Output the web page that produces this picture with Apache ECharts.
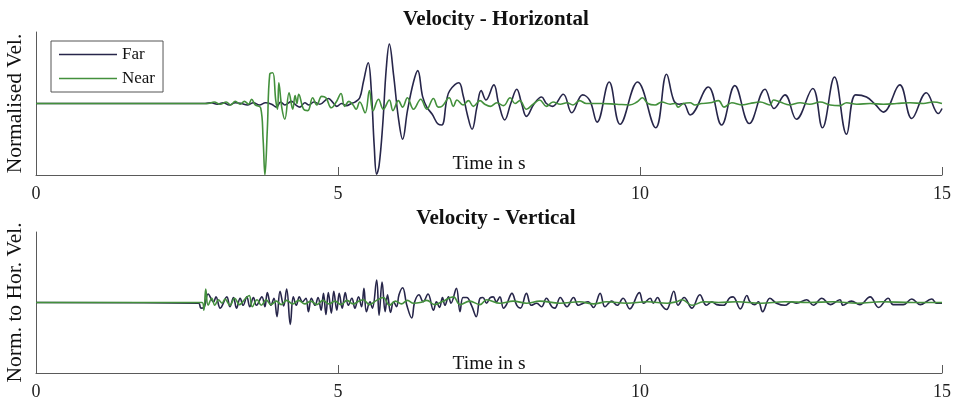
<!DOCTYPE html>
<html>
<head>
<meta charset="utf-8">
<script src="https://cdn.jsdelivr.net/npm/echarts@6/dist/echarts.min.js"></script>
<style>html,body{margin:0;padding:0;background:#fff}#c{width:959px;height:401px}</style>
</head>
<body>
<div id="c"></div>
<script>
var xTicks = [0, 5, 10, 15];
var titles = ['Velocity - Horizontal', 'Velocity - Vertical'];
var yNames = ['Normalised Vel.', 'Norm. to Hor. Vel.'];
var xName = 'Time in s';
var seriesNames = ['Far', 'Near'];

var horFar = [[0,0],[2.8,0],[2.9,0.01],[3.0,-0.01],[3.1,0.01],[3.2,-0.02],[3.3,0.01],[3.4,0.0],[3.5,-0.02],[3.6,0.01],[3.7,-0.02],[3.8,0.01],[3.9,-0.01],[3.98,-0.05],[4.05,0.02],[4.12,-0.02],[4.23,0.03],[4.3,-0.02],[4.37,-0.05],[4.45,0.01],[4.52,-0.02],[4.6,0.02],[4.7,-0.01],[4.84,0.07],[4.91,0.02],[4.98,-0.04],[5.06,0.0],[5.14,-0.03],[5.22,0.0],[5.28,0.02],[5.36,0.08],[5.42,0.3],[5.50,0.57],[5.55,0.2],[5.60,-0.6],[5.64,-0.99],[5.68,-0.87],[5.74,-0.3],[5.80,0.5],[5.85,0.83],[5.92,0.4],[6.0,-0.2],[6.07,-0.5],[6.15,-0.1],[6.25,0.3],[6.32,0.46],[6.40,0.1],[6.47,-0.05],[6.56,-0.15],[6.66,-0.29],[6.72,-0.3],[6.8,0.05],[6.85,0.18],[7.0,0.29],[7.07,0.12],[7.14,-0.15],[7.22,-0.36],[7.30,-0.05],[7.37,0.18],[7.45,0.05],[7.58,0.26],[7.66,0.0],[7.76,-0.23],[7.86,0.0],[7.96,0.20],[8.04,0.0],[8.12,-0.18],[8.25,0.0],[8.37,0.09],[8.45,0.0],[8.55,-0.04],[8.73,0.13],[8.87,-0.13],[9.05,0.12],[9.17,0.04],[9.29,-0.26],[9.49,0.30],[9.67,-0.29],[9.96,0.30],[10.26,-0.34],[10.44,0.41],[10.56,0.04],[10.65,-0.01],[10.72,0.0],[10.83,-0.16],[11.13,0.23],[11.35,-0.30],[11.57,0.25],[11.81,-0.28],[12.07,0.20],[12.22,-0.07],[12.40,0.12],[12.59,-0.22],[12.86,0.21],[13.02,-0.34],[13.22,0.37],[13.42,-0.43],[13.57,0.12],[13.75,0.09],[13.89,-0.01],[14.03,-0.12],[14.30,0.26],[14.50,-0.21],[14.74,0.15],[14.94,-0.14],[15.0,-0.07]];

var horNear = [[0,0],[2.85,0],[2.95,0.02],[3.05,-0.01],[3.15,0.02],[3.22,-0.02],[3.3,0.03],[3.38,-0.01],[3.45,0.03],[3.52,-0.01],[3.57,0.06],[3.63,-0.02],[3.72,-0.06],[3.76,-0.5],[3.79,-1.0],[3.83,-0.36],[3.87,0.41],[3.92,0.43],[3.97,0.04],[4.0,-0.08],[4.02,0.29],[4.07,-0.06],[4.12,-0.22],[4.19,0.15],[4.25,-0.08],[4.29,0.11],[4.32,0.0],[4.35,0.13],[4.43,-0.08],[4.5,-0.1],[4.58,0.08],[4.65,-0.02],[4.73,0.1],[4.80,0.08],[4.89,-0.06],[4.97,0.02],[5.05,0.14],[5.11,-0.04],[5.18,0.03],[5.25,-0.02],[5.30,-0.08],[5.36,0.02],[5.45,-0.13],[5.52,0.18],[5.58,-0.10],[5.67,0.06],[5.75,-0.08],[5.85,0.05],[5.91,-0.10],[6.0,0.04],[6.07,-0.05],[6.15,0.08],[6.25,-0.08],[6.37,0.06],[6.47,-0.08],[6.58,0.07],[6.66,-0.05],[6.72,-0.04],[6.84,0.08],[6.91,-0.04],[6.97,0.05],[7.07,-0.02],[7.16,0.04],[7.24,-0.04],[7.35,0.04],[7.43,-0.01],[7.52,-0.04],[7.63,0.01],[7.74,-0.03],[7.85,0.08],[7.93,0.0],[8.01,0.04],[8.12,-0.08],[8.23,-0.01],[8.34,0.05],[8.45,-0.04],[8.56,0.02],[8.68,-0.01],[8.79,0.01],[8.89,-0.02],[9.0,0.04],[9.11,0.0],[9.34,0.0],[9.61,-0.01],[9.83,-0.02],[9.95,0.02],[10.04,0.08],[10.13,0.0],[10.25,-0.02],[10.36,0.02],[10.5,-0.01],[10.58,0.0],[10.63,-0.05],[10.72,0.0],[10.83,0.01],[10.91,-0.02],[11.02,0.0],[11.16,0.01],[11.30,0.04],[11.39,-0.05],[11.52,0.01],[11.68,-0.02],[11.82,0.0],[11.99,0.02],[12.15,-0.02],[12.21,0.05],[12.32,0.02],[12.48,-0.02],[12.65,0.01],[12.81,-0.01],[12.98,0.02],[13.15,-0.02],[13.31,-0.03],[13.42,0.01],[13.59,-0.01],[13.81,0.0],[14.03,-0.01],[14.25,0.0],[14.47,0.01],[14.69,0.0],[14.85,0.02],[15.0,0.0]];

var verFar = [[0,0],[2.69,-0.01],[2.73,-0.08],[2.78,-0.07],[2.85,0.12],[2.94,0.01],[2.98,0.08],[3.05,-0.08],[3.16,0.08],[3.21,-0.06],[3.27,0.07],[3.32,-0.08],[3.38,0.06],[3.43,-0.04],[3.49,0.08],[3.54,-0.06],[3.60,0.07],[3.65,-0.04],[3.74,0.08],[3.79,-0.06],[3.83,0.14],[3.89,-0.04],[3.94,0.06],[3.99,-0.2],[4.04,0.16],[4.10,-0.05],[4.15,0.19],[4.21,-0.31],[4.26,0.08],[4.31,-0.04],[4.36,0.08],[4.41,0.01],[4.47,0.06],[4.51,-0.13],[4.56,0.06],[4.62,-0.04],[4.67,0.07],[4.72,-0.11],[4.76,0.13],[4.80,-0.17],[4.84,0.14],[4.89,-0.15],[4.93,0.16],[4.98,-0.11],[5.02,0.13],[5.07,-0.08],[5.12,0.14],[5.17,-0.04],[5.23,0.06],[5.28,-0.08],[5.34,0.08],[5.39,-0.06],[5.43,0.2],[5.47,-0.13],[5.53,0.01],[5.57,-0.08],[5.64,0.32],[5.68,-0.18],[5.73,0.29],[5.78,-0.13],[5.82,0.11],[5.87,-0.14],[5.92,0.01],[5.97,-0.06],[6.01,0.11],[6.07,0.21],[6.14,-0.04],[6.22,-0.22],[6.27,0.01],[6.34,0.11],[6.41,0.01],[6.49,0.12],[6.58,-0.11],[6.63,0.01],[6.68,-0.07],[6.73,0.07],[6.77,-0.04],[6.83,0.08],[6.87,-0.01],[6.96,0.2],[7.02,-0.13],[7.07,0.07],[7.13,0.07],[7.21,-0.04],[7.29,-0.2],[7.35,0.06],[7.40,0.07],[7.46,-0.01],[7.52,0.07],[7.57,0.08],[7.62,0.01],[7.68,0.08],[7.74,-0.08],[7.79,-0.03],[7.88,0.13],[7.96,-0.04],[8.02,-0.08],[8.12,0.13],[8.20,-0.04],[8.29,-0.01],[8.37,-0.06],[8.45,0.06],[8.54,-0.06],[8.59,-0.08],[8.68,0.07],[8.79,-0.06],[8.90,0.07],[8.98,-0.04],[9.06,-0.01],[9.14,0.01],[9.23,-0.07],[9.34,0.13],[9.42,-0.06],[9.53,0.02],[9.62,-0.04],[9.72,0.06],[9.83,-0.09],[9.99,0.14],[10.06,-0.01],[10.17,0.06],[10.22,-0.01],[10.29,0.07],[10.36,-0.04],[10.44,-0.1],[10.56,0.16],[10.63,-0.04],[10.73,0.07],[10.86,-0.08],[10.99,0.11],[11.10,-0.04],[11.19,0.01],[11.27,-0.03],[11.38,-0.04],[11.49,0.07],[11.54,0.08],[11.66,-0.09],[11.77,0.1],[11.82,0.01],[11.90,-0.03],[11.96,0.01],[12.03,-0.13],[12.15,0.06],[12.26,-0.01],[12.40,-0.04],[12.51,0.01],[12.59,-0.01],[12.76,0.04],[12.87,-0.04],[13.01,0.06],[13.15,-0.03],[13.31,0.04],[13.36,-0.04],[13.50,0.02],[13.64,-0.03],[13.81,0.08],[13.95,-0.07],[14.11,0.06],[14.19,-0.03],[14.36,-0.03],[14.50,0.05],[14.64,-0.03],[14.83,0.05],[14.91,-0.01],[15.0,-0.01]];

var verNear = [[0,0],[2.75,0],[2.78,-0.11],[2.81,0.19],[2.85,-0.04],[2.91,0.06],[2.96,-0.04],[3.02,0.04],[3.08,-0.01],[3.13,0.05],[3.21,-0.04],[3.29,0.06],[3.37,-0.03],[3.46,0.05],[3.53,0.1],[3.58,-0.06],[3.66,0.04],[3.73,-0.04],[3.81,0.04],[3.89,-0.03],[3.98,0.02],[4.06,-0.03],[4.15,0.03],[4.25,-0.02],[4.35,0.03],[4.45,-0.02],[4.55,0.02],[4.65,-0.03],[4.75,0.03],[4.85,-0.02],[4.95,0.02],[5.05,-0.03],[5.15,0.03],[5.25,-0.02],[5.35,0.02],[5.42,0.04],[5.52,-0.03],[5.62,0.02],[5.75,0.07],[5.85,-0.04],[5.95,0.02],[6.05,-0.02],[6.15,0.03],[6.25,-0.01],[6.36,0.0],[6.47,0.03],[6.60,-0.03],[6.72,0.01],[6.91,0.08],[7.02,-0.03],[7.18,0.02],[7.35,-0.03],[7.46,0.04],[7.68,-0.01],[7.90,0.02],[8.12,-0.01],[8.34,0.02],[8.67,-0.01],[9.0,0.01],[9.23,-0.02],[9.45,0.01],[9.78,-0.01],[10.12,0.01],[10.45,-0.01],[10.6,0.01],[10.7,0.04],[10.86,-0.04],[11.05,0.01],[11.3,0.0],[11.6,0.01],[12.0,-0.01],[12.4,0.01],[12.8,0.0],[13.2,0.01],[13.6,-0.01],[14.0,0.01],[14.5,0.0],[15,0.0]];

var FAR_COLOR = '#27264a';
var NEAR_COLOR = '#43903c';
var SERIF = '"Liberation Serif", "DejaVu Serif", serif';
var AXIS_COLOR = '#5a5a5a';

var chart = echarts.init(document.getElementById('c'), null, {renderer: 'canvas'});

function xAxisFor(idx) {
  return {
    type: 'value', gridIndex: idx, min: 0, max: 15, interval: 5,
    axisLine: {show: true, onZero: false, lineStyle: {color: AXIS_COLOR, width: 1}},
    axisTick: {show: true, inside: true, length: 8, lineStyle: {color: AXIS_COLOR}},
    axisLabel: {fontFamily: SERIF, fontSize: 18, color: '#222', margin: 10,
      formatter: function (v) { return xTicks.indexOf(v) >= 0 ? String(v) : ''; }},
    splitLine: {show: false}
  };
}
function yAxisFor(idx) {
  return {
    type: 'value', gridIndex: idx, min: -1, max: 1,
    name: yNames[idx], nameLocation: 'middle', nameGap: 10,
    nameTextStyle: {fontFamily: SERIF, fontSize: 21.5, color: '#111'},
    axisLine: {show: true, onZero: false, lineStyle: {color: AXIS_COLOR, width: 1}},
    axisTick: {show: false}, axisLabel: {show: false}, splitLine: {show: false}
  };
}
function line(name, data, color, idx) {
  return {
    name: name, type: 'line', xAxisIndex: idx, yAxisIndex: idx, data: data,
    symbol: 'none', showSymbol: false, smooth: 0.4, clip: true, animation: false,
    lineStyle: {color: color, width: 1.6}, itemStyle: {color: color}
  };
}
var titleStyle = {fontFamily: SERIF, fontSize: 21, fontWeight: 'bold', color: '#111'};
var nameStyle = {fontFamily: SERIF, fontSize: 19.5, fontWeight: 'normal', color: '#111'};

chart.setOption({
  animation: false,
  backgroundColor: '#ffffff',
  title: [
    {text: titles[0], left: 491, top: 4, textAlign: 'center', textStyle: titleStyle},
    {text: titles[1], left: 491, top: 203, textAlign: 'center', textStyle: titleStyle},
    {text: xName, left: 489, top: 154, textAlign: 'center', textStyle: nameStyle, padding: 0},
    {text: xName, left: 489, top: 354, textAlign: 'center', textStyle: nameStyle, padding: 0}
  ],
  legend: {
    data: seriesNames, orient: 'vertical', left: 51, top: 41,
    padding: [5, 8, 5, 8], itemGap: 7, itemWidth: 58, itemHeight: 16,
    icon: 'path://M0,7.2 L58,7.2 L58,8.8 L0,8.8 Z',
    borderColor: '#555', borderWidth: 1, backgroundColor: '#fff',
    textStyle: {fontFamily: SERIF, fontSize: 17, color: '#111'}
  },
  grid: [
    {left: 36, right: 17, top: 32, height: 143, containLabel: false, outerBoundsMode: 'none'},
    {left: 36, right: 17, top: 232, height: 141, containLabel: false, outerBoundsMode: 'none'}
  ],
  xAxis: [xAxisFor(0), xAxisFor(1)],
  yAxis: [yAxisFor(0), yAxisFor(1)],
  series: [
    line(seriesNames[0], horFar, FAR_COLOR, 0),
    line(seriesNames[1], horNear, NEAR_COLOR, 0),
    line(seriesNames[0], verFar, FAR_COLOR, 1),
    line(seriesNames[1], verNear, NEAR_COLOR, 1)
  ]
});
</script>
</body>
</html>
